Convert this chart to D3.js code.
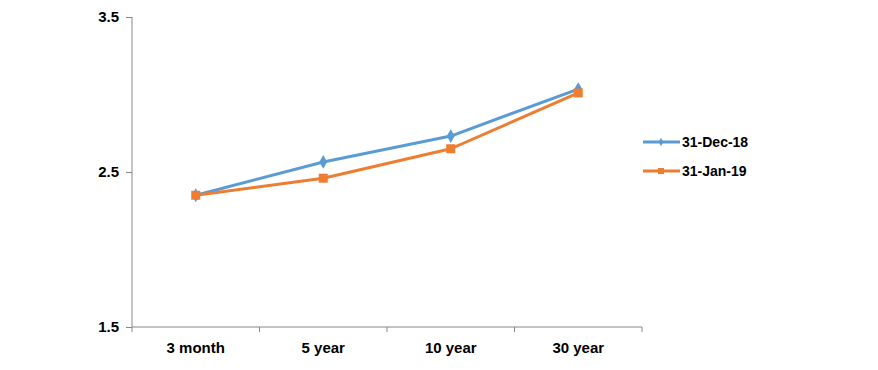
<!DOCTYPE html>
<html><head><meta charset="utf-8">
<script src="https://cdn.jsdelivr.net/npm/d3@7"></script>
<style>body{margin:0;background:#fff;} text{font-family:"Liberation Sans",Arial,sans-serif;font-weight:bold;}</style>
</head><body><svg id="c" width="878" height="370"></svg>
<script>
const categories = ["3 month","5 year","10 year","30 year"];
const dec18 = [2.35, 2.565, 2.732, 3.035];
const jan19 = [2.35, 2.46, 2.65, 3.01];
const seriesNames = ["31-Dec-18","31-Jan-19"];
const colors = ["#5B9BD5","#ED7D31"];
const yTicks = [1.5, 2.5, 3.5];

const svg = d3.select("#c");
const x0 = 132, x1 = 642, yTop = 17, yBot = 327;
const x = d3.scaleBand().domain(categories).range([x0, x1]);
const y = d3.scaleLinear().domain([1.5, 3.5]).range([yBot, yTop]);

// y axis
const ya = svg.append("g").attr("transform", `translate(${x0},0)`)
  .call(d3.axisLeft(y).tickValues(yTicks).tickSize(6).tickPadding(7).tickFormat(d3.format(".1f")));
ya.select(".domain").attr("stroke","#888").attr("d", `M0,${yTop}V${yBot}`);
ya.selectAll(".tick line").attr("stroke","#888");
ya.selectAll(".tick text").attr("font-size",15).attr("fill","#000").attr("font-family","Liberation Sans, Arial").attr("font-weight","bold");

// x axis
const xa = svg.append("g").attr("transform", `translate(0,${yBot})`);
xa.append("line").attr("x1",x0).attr("x2",x1).attr("stroke","#888");
const edges = categories.map(c => x(c)).concat([x1]);
xa.selectAll("line.tk").data(edges).join("line").attr("class","tk")
  .attr("x1",d=>d).attr("x2",d=>d).attr("y1",0).attr("y2",5).attr("stroke","#888");
xa.selectAll("text").data(categories).join("text")
  .attr("x", d => x(d) + x.bandwidth()/2).attr("y", 26)
  .attr("text-anchor","middle").attr("font-size",15).attr("fill","#000").text(d=>d);

const cx = d => x(d) + x.bandwidth()/2;
const line = d3.line().x((d,i)=>cx(categories[i])).y(d=>y(d));
[dec18, jan19].forEach((vals, si) => {
  svg.append("path").datum(vals).attr("d", line).attr("fill","none")
    .attr("stroke", colors[si]).attr("stroke-width", 3).attr("stroke-linejoin","round");
});
// markers
const diamond = d3.symbol().type(d3.symbolDiamond).size(55);
svg.selectAll("path.dm").data(dec18).join("path").attr("class","dm")
  .attr("d", diamond).attr("transform",(d,i)=>`translate(${cx(categories[i])},${y(d)})`)
  .attr("fill", colors[0]);
svg.selectAll("rect.sq").data(jan19).join("rect").attr("class","sq")
  .attr("x",(d,i)=>cx(categories[i])-4.5).attr("y",d=>y(d)-4.5)
  .attr("width",9).attr("height",9).attr("fill",colors[1]);

// legend
const lg = svg.append("g");
seriesNames.forEach((n,i) => {
  const ly = 142 + i*29;
  lg.append("line").attr("x1",643).attr("x2",680).attr("y1",ly).attr("y2",ly)
    .attr("stroke",colors[i]).attr("stroke-width",3);
  if (i===0) lg.append("path").attr("d", d3.symbol().type(d3.symbolDiamond).size(20)).attr("transform",`translate(661,${ly})`).attr("fill",colors[0]);
  else lg.append("rect").attr("x",658).attr("y",ly-3).attr("width",6).attr("height",6).attr("fill",colors[1]);
  lg.append("text").attr("x",682).attr("y",ly+5).attr("font-size",14).attr("fill","#000").text(n);
});
</script></body></html>
